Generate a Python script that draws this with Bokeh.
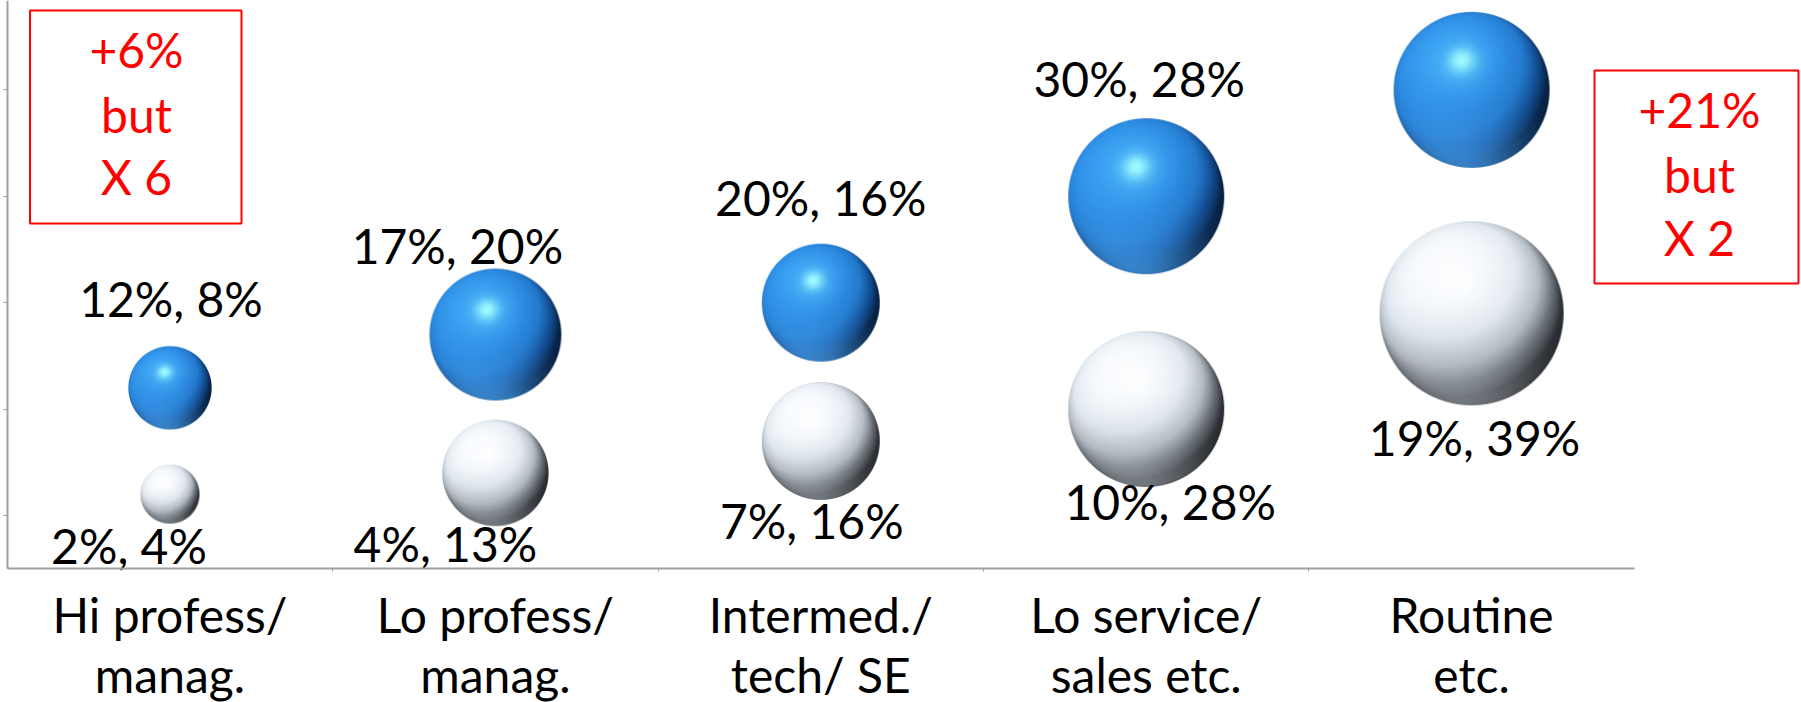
import numpy as np
from bokeh.plotting import figure
from bokeh.models import (ColumnDataSource, Range1d, LinearAxis, FixedTicker,
                          CustomJSTickFormatter, BoxAnnotation, Label)
from bokeh.core.properties import value
from bokeh.embed import file_html
from bokeh.resources import INLINE

# ---------------- data ----------------
categories = ["Hi profess/\nmanag.", "Lo profess/\nmanag.", "Intermed./\ntech/ SE",
              "Lo service/\nsales etc.", "Routine\netc."]
white_y = [2, 4, 7, 10, 19]          # lower (white) bubbles: y value %
white_size = [4, 13, 16, 28, 39]     # bubble size %
blue_y = [12, 17, 20, 30, 40]        # upper (blue) bubbles: y value %
blue_size = [8, 20, 16, 28, 28]      # bubble size %
blue_show_label = [True, True, True, True, False]
box_left_lines = ["+6%", "but", "X 6"]
box_right_lines = ["+21%", "but", "X 2"]
y_ticks = [0, 10, 20, 30, 40]

# ---------------- layout ----------------
W, H = 1801, 702
PX_X = 325.4      # px per category
PX_Y = 10.64      # px per percentage point
x_start = -169.5 / PX_X
x_end = x_start + W / PX_X
y_end = 515 / PX_Y
y_start = y_end - H / PX_Y
y_floor = -5
y_axis_x = x_start + 7 / PX_X
MAX_D = 184.0
FONT = "Lato"
FS = "48px"


def xd(px):
    return x_start + px / PX_X


def yd(px):
    return y_end - px / PX_Y


def unit(v):
    v = np.array(v, dtype=float)
    return v / np.linalg.norm(v)


def ramp(s, stops):
    xs_ = [a for a, _ in stops]
    return np.stack([np.interp(s, xs_, [c[k] for _, c in stops]) for k in range(3)], axis=-1)


BLUE = dict(
    L=unit([-0.38, 0.45, 0.81]), Hs=unit([-0.13, 0.38, 0.92]),
    B=unit([-0.15, -0.95, 0.3]),
    stops=[(-1.0, (4, 18, 40)), (-0.1, (9, 36, 72)), (0.2, (20, 80, 150)),
           (0.45, (36, 122, 205)), (0.75, (47, 143, 230)), (1.0, (58, 160, 242))],
    spec=(160, 252, 255), glow=(95, 205, 255), refl=(70, 160, 240), refl_w=0.75,
    under="#2a7fd0")
WHITE = dict(
    L=unit([-0.32, 0.5, 0.8]), Hs=unit([-0.15, 0.35, 0.92]),
    B=unit([-0.15, -0.95, 0.3]),
    stops=[(-1.0, (22, 24, 27)), (-0.1, (45, 48, 52)), (0.18, (105, 111, 118)),
           (0.42, (180, 188, 196)), (0.68, (226, 233, 240)), (0.9, (244, 248, 252)),
           (1.0, (252, 253, 255))],
    spec=(255, 255, 255), glow=(250, 252, 255), refl=(175, 182, 190), refl_w=0.55,
    under="#c8d0d8")


def sphere_image(d, st):
    n = int(np.ceil(d)) + 2
    r = d / 2.0
    c = n / 2.0
    jj, ii = np.mgrid[0:n, 0:n]
    u = (ii + 0.5 - c) / r
    v = (jj + 0.5 - c) / r          # row 0 is the bottom in Bokeh images
    rho = np.sqrt(u * u + v * v)
    alpha = np.clip((1.0 - rho) * r + 0.5, 0, 1)
    z = np.sqrt(np.clip(1.0 - rho * rho, 0, 1))
    L, Hs, B = st["L"], st["Hs"], st["B"]
    s = u * L[0] + v * L[1] + z * L[2]
    col = ramp(s, st["stops"])
    nh = np.clip(u * Hs[0] + v * Hs[1] + z * Hs[2], 0, 1)
    glow = (nh ** 14 * 0.45)[..., None]
    col = col + (np.array(st["glow"]) - col) * glow
    sp = (nh ** 70)[..., None]
    col = col + (np.array(st["spec"]) - col) * sp
    nb = np.clip(u * B[0] + v * B[1] + z * B[2], 0, 1)
    rf = (nb ** 2.5 * st["refl_w"])[..., None]
    col = col + (np.array(st["refl"]) - col) * rf
    img = np.zeros((n, n), dtype=np.uint32)
    view = img.view(dtype=np.uint8).reshape((n, n, 4))
    view[..., :3] = np.clip(col, 0, 255).astype(np.uint8)
    view[..., 3] = (alpha * 255).astype(np.uint8)
    return img, n


p = figure(width=W, height=H, x_range=Range1d(x_start, x_end), y_range=Range1d(y_start, y_end),
           output_backend="svg", toolbar_location=None, min_border=0,
           outline_line_color=None, x_axis_type=None, y_axis_type=None)
p.background_fill_color = "white"

xs = list(range(len(categories)))

# axes
yaxis = LinearAxis(fixed_location=y_axis_x, ticker=FixedTicker(ticks=y_ticks),
                   formatter=CustomJSTickFormatter(code="return ''"),
                   major_tick_out=4, major_tick_in=0, minor_tick_out=0, minor_tick_in=0,
                   bounds=(y_floor, y_end), axis_line_color="#a0a0a0", axis_line_width=2,
                   major_tick_line_color="#a0a0a0", major_tick_line_width=1)
p.add_layout(yaxis, "left")

xaxis = LinearAxis(fixed_location=y_floor,
                   ticker=FixedTicker(ticks=xs, minor_ticks=[i + 0.5 for i in xs[:-1]]),
                   major_label_overrides={i: c for i, c in zip(xs, categories)},
                   major_tick_in=0, major_tick_out=0, minor_tick_in=0, minor_tick_out=3,
                   bounds=(y_axis_x, len(categories) - 0.5),
                   axis_line_color="#a0a0a0", axis_line_width=2,
                   minor_tick_line_color="#a0a0a0",
                   major_label_text_font=FONT, major_label_text_font_size=FS,
                   major_label_text_color="black", major_label_standoff=14,
                   major_label_text_line_height=1.05)
p.add_layout(xaxis, "below")

# bubbles: a plain circle marker per bubble, with a shaded sphere image on top
smax = max(max(white_size), max(blue_size))
for ys, sizes, st in [(white_y, white_size, WHITE), (blue_y, blue_size, BLUE)]:
    diam = [MAX_D * np.sqrt(s / smax) for s in sizes]
    p.scatter(x=xs, y=ys, size=[d - 3 for d in diam], fill_color=st["under"], line_color=None)
    imgs, ix, iy, dws, dhs = [], [], [], [], []
    for xi, yi, d in zip(xs, ys, diam):
        img, n = sphere_image(d, st)
        imgs.append(img)
        ix.append(xi - (n / 2) / PX_X)
        iy.append(yi - (n / 2) / PX_Y)
        dws.append(n / PX_X)
        dhs.append(n / PX_Y)
    p.image_rgba(image=imgs, x=ix, y=iy, dw=dws, dh=dhs)

# data labels (value, size)
white_off = [(-41, 51), (-50, 71), (-9, 79), (24, 92), (3, 124)]
blue_off = [(1, -89), (-38, -89), (0, -105), (-7, -118), (0, -110)]
lab = dict(x=[], y=[], t=[], dx=[], dy=[])
for i in xs:
    lab["x"].append(i); lab["y"].append(white_y[i])
    lab["t"].append(f"{white_y[i]}%, {white_size[i]}%")
    lab["dx"].append(white_off[i][0]); lab["dy"].append(white_off[i][1])
    if blue_show_label[i]:
        lab["x"].append(i); lab["y"].append(blue_y[i])
        lab["t"].append(f"{blue_y[i]}%, {blue_size[i]}%")
        lab["dx"].append(blue_off[i][0]); lab["dy"].append(blue_off[i][1])
p.text(x="x", y="y", text="t", x_offset="dx", y_offset="dy", source=ColumnDataSource(lab),
       text_font=value(FONT), text_font_size=FS, text_color="black",
       text_align="center", text_baseline="middle")

# red callout boxes
for (l, r, t, b, cx, cys, lines) in [
        (29.5, 241, 10, 223, 136, [49, 114, 176], box_left_lines),
        (1594, 1798, 70, 283, 1699, [109, 174, 237], box_right_lines)]:
    p.add_layout(BoxAnnotation(left=xd(l), right=xd(r), top=yd(t), bottom=yd(b),
                               fill_color=None, fill_alpha=0, line_color="#ff0000",
                               line_alpha=1.0, line_width=2))
    for cy, s in zip(cys, lines):
        p.add_layout(Label(x=xd(cx), y=yd(cy), text=s, text_align="center",
                           text_baseline="middle", text_font=FONT, text_font_size=FS,
                           text_color="#ff0000"))

open("out.html", "w").write(file_html(p, INLINE))
